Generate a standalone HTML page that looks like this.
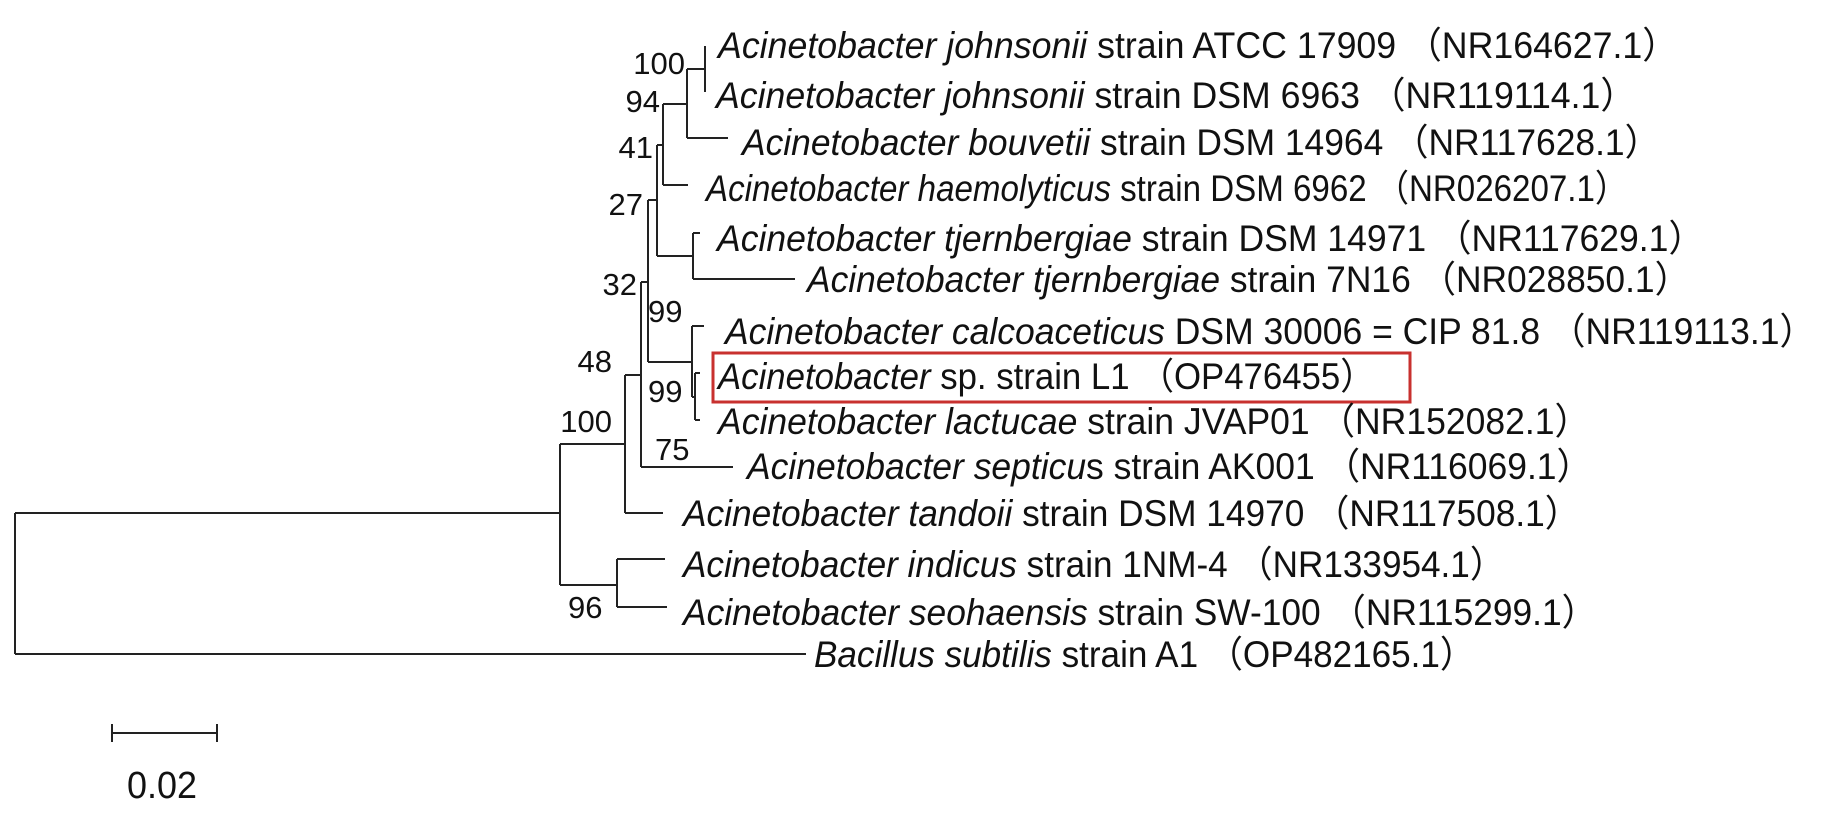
<!DOCTYPE html>
<html><head><meta charset="utf-8"><style>
html,body{margin:0;padding:0;background:#fff;}
svg{display:block;}
text{font-family:"Liberation Sans","Noto Sans CJK SC",sans-serif;fill:#111;}
.t{font-size:37px;}
.n{font-size:31px;}
</style></head><body>
<svg width="1843" height="819" viewBox="0 0 1843 819" xmlns="http://www.w3.org/2000/svg">
<g stroke="#222" stroke-width="2" fill="none">
<path d="M15 513V654M15 513H560M15 654H806"/>
<path d="M560 444V585M560 444H625M560 585H617"/>
<path d="M617 559V607M617 559H665M617 607H667"/>
<path d="M625 375V513M625 513H663M625 375H641"/>
<path d="M641 282V467M641 467H733M641 282H648"/>
<path d="M648 200V362M648 200H657M648 362H692"/>
<path d="M692 326V397M692 326H704M692 397H695"/>
<path d="M695 373V420M695 373H700M695 420H700"/>
<path d="M657 145V256M657 145H663M657 256H693"/>
<path d="M693 233V279M693 233H700M693 279H795"/>
<path d="M663 104V185M663 104H687M663 185H688"/>
<path d="M687 69V138M687 69H705M687 138H728"/>
<path d="M705 46V92"/>
<path d="M112 733H217M112 724V742M217 724V742"/>
</g>
<rect x="713" y="353" width="697" height="49" fill="none" stroke="#c8312f" stroke-width="3"/>
<g class="t">
<text x="718" y="58" textLength="960" lengthAdjust="spacingAndGlyphs"><tspan font-style="italic">Acinetobacter johnsonii</tspan> strain ATCC 17909 （NR164627.1）</text>
<text x="716" y="108" textLength="920" lengthAdjust="spacingAndGlyphs"><tspan font-style="italic">Acinetobacter johnsonii</tspan> strain DSM 6963 （NR119114.1）</text>
<text x="742" y="155" textLength="918" lengthAdjust="spacingAndGlyphs"><tspan font-style="italic">Acinetobacter bouvetii</tspan> strain DSM 14964 （NR117628.1）</text>
<text x="706" y="201" textLength="922" lengthAdjust="spacingAndGlyphs"><tspan font-style="italic">Acinetobacter haemolyticus</tspan> strain DSM 6962 （NR026207.1）</text>
<text x="717" y="251" textLength="987" lengthAdjust="spacingAndGlyphs"><tspan font-style="italic">Acinetobacter tjernbergiae</tspan> strain DSM 14971 （NR117629.1）</text>
<text x="807" y="292" textLength="883" lengthAdjust="spacingAndGlyphs"><tspan font-style="italic">Acinetobacter tjernbergiae</tspan> strain 7N16 （NR028850.1）</text>
<text x="725" y="344" textLength="1090" lengthAdjust="spacingAndGlyphs"><tspan font-style="italic">Acinetobacter calcoaceticus</tspan> DSM 30006 = CIP 81.8 （NR119113.1）</text>
<text x="718" y="389" textLength="657" lengthAdjust="spacingAndGlyphs"><tspan font-style="italic">Acinetobacter</tspan> sp. strain L1 （OP476455）</text>
<text x="718" y="434" textLength="872" lengthAdjust="spacingAndGlyphs"><tspan font-style="italic">Acinetobacter lactucae</tspan> strain JVAP01 （NR152082.1）</text>
<text x="747" y="479" textLength="845" lengthAdjust="spacingAndGlyphs"><tspan font-style="italic">Acinetobacter septicu</tspan>s strain AK001 （NR116069.1）</text>
<text x="683" y="526" textLength="897" lengthAdjust="spacingAndGlyphs"><tspan font-style="italic">Acinetobacter tandoii</tspan> strain DSM 14970 （NR117508.1）</text>
<text x="683" y="577" textLength="822" lengthAdjust="spacingAndGlyphs"><tspan font-style="italic">Acinetobacter indicus</tspan> strain 1NM-4 （NR133954.1）</text>
<text x="683" y="625" textLength="914" lengthAdjust="spacingAndGlyphs"><tspan font-style="italic">Acinetobacter seohaensis</tspan> strain SW-100 （NR115299.1）</text>
<text x="814" y="667" textLength="661" lengthAdjust="spacingAndGlyphs"><tspan font-style="italic">Bacillus subtilis</tspan> strain A1 （OP482165.1）</text>
</g>
<g class="n" text-anchor="end">
<text x="685" y="74">100</text>
<text x="660" y="112">94</text>
<text x="653" y="158">41</text>
<text x="643" y="215">27</text>
<text x="637" y="295">32</text>
<text x="612" y="372">48</text>
<text x="612" y="432">100</text>
</g>
<g class="n">
<text x="648" y="322">99</text>
<text x="648" y="402">99</text>
<text x="655" y="460">75</text>
<text x="568" y="618">96</text>
</g>
<text x="127" y="798" style="font-size:38px" textLength="70" lengthAdjust="spacingAndGlyphs">0.02</text>
</svg>
</body></html>
